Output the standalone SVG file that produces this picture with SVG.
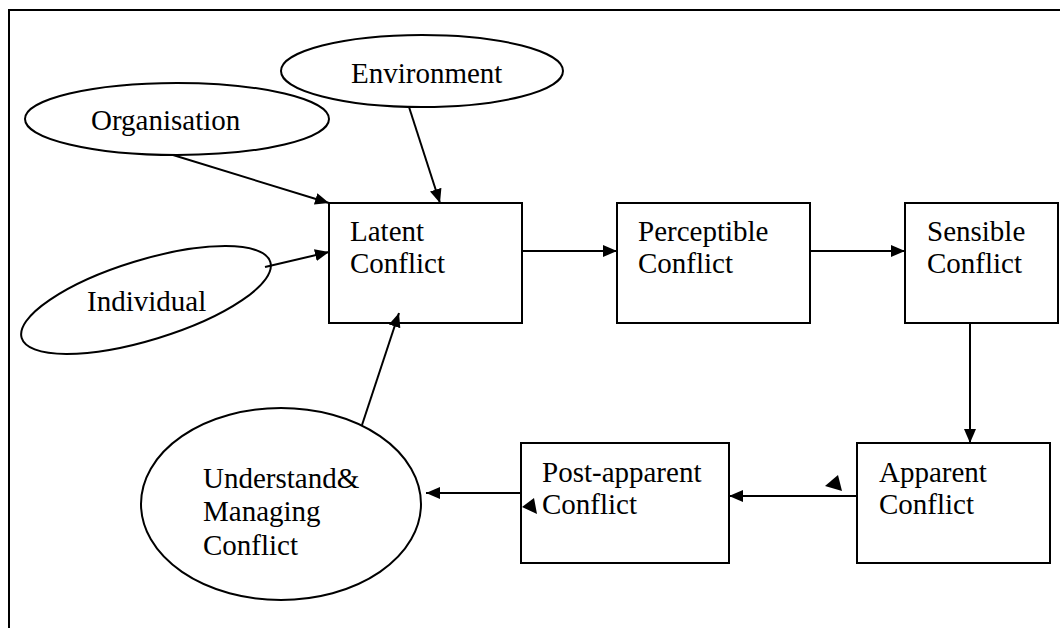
<svg xmlns="http://www.w3.org/2000/svg" width="1060" height="628" viewBox="0 0 1060 628">
<defs>
<style>
.shape{fill:#fff;stroke:#000;stroke-width:2}
.t{font-family:"Liberation Serif","Times New Roman",serif;font-size:29px;fill:#000}
.c{fill:none;stroke:#000;stroke-width:2}
</style>
<marker id="ah" viewBox="0 0 14 12" refX="14" refY="6" markerWidth="14" markerHeight="12" markerUnits="userSpaceOnUse" orient="auto">
<path d="M0,0 L14,6 L0,12 Z" fill="#000"/>
</marker>
</defs>
<rect width="1060" height="628" fill="#fff"/>
<g id="frame">
<path d="M9,628 L9,10 L1060,10" fill="none" stroke="#000" stroke-width="2"/>
</g>
<g id="organisation">
<ellipse class="shape" cx="177" cy="119" rx="152" ry="36"/>
<text class="t" x="91" y="130">Organisation</text>
</g>
<g id="environment">
<ellipse class="shape" cx="422" cy="71" rx="141" ry="36"/>
<text class="t" x="351" y="83">Environment</text>
</g>
<g id="individual">
<ellipse class="shape" cx="146" cy="300" rx="130" ry="40" transform="rotate(-17 146 300)"/>
<text class="t" x="87" y="311">Individual</text>
</g>
<g id="latent">
<rect class="shape" x="329" y="203" width="193" height="120"/>
<text class="t" x="350" y="241">Latent</text>
<text class="t" x="350" y="273">Conflict</text>
</g>
<g id="perceptible">
<rect class="shape" x="617" y="203" width="193" height="120"/>
<text class="t" x="638" y="241">Perceptible</text>
<text class="t" x="638" y="273">Conflict</text>
</g>
<g id="sensible">
<rect class="shape" x="905" y="203" width="153" height="120"/>
<text class="t" x="927" y="241">Sensible</text>
<text class="t" x="927" y="273">Conflict</text>
</g>
<g id="apparent">
<rect class="shape" x="857" y="443" width="193" height="120"/>
<text class="t" x="879" y="482">Apparent</text>
<text class="t" x="879" y="514">Conflict</text>
</g>
<g id="post-apparent">
<rect class="shape" x="521" y="443" width="208" height="120"/>
<text class="t" x="542" y="482">Post-apparent</text>
<text class="t" x="542" y="514">Conflict</text>
</g>
<g id="understand">
<ellipse class="shape" cx="281" cy="504" rx="140" ry="96"/>
<text class="t" x="203" y="488">Understand&amp;</text>
<text class="t" x="203" y="521">Managing</text>
<text class="t" x="203" y="555">Conflict</text>
</g>
<g id="connectors">
<line class="c" x1="173" y1="155" x2="329" y2="203" marker-end="url(#ah)"/>
<line class="c" x1="409" y1="107" x2="440" y2="203" marker-end="url(#ah)"/>
<line class="c" x1="265" y1="267" x2="329" y2="252" marker-end="url(#ah)"/>
<line class="c" x1="362" y1="425" x2="399" y2="313" marker-end="url(#ah)"/>
<line class="c" x1="522" y1="251" x2="617" y2="251" marker-end="url(#ah)"/>
<line class="c" x1="810" y1="251" x2="905" y2="251" marker-end="url(#ah)"/>
<line class="c" x1="970" y1="323" x2="970" y2="443" marker-end="url(#ah)"/>
<line class="c" x1="857" y1="496" x2="729" y2="496" marker-end="url(#ah)"/>
<line class="c" x1="521" y1="493" x2="426" y2="493" marker-end="url(#ah)"/>
<polygon points="825,486 838,475 842,491" fill="#000"/>
<polygon points="522,507 534,498 537,514" fill="#000"/>
</g>
</svg>
